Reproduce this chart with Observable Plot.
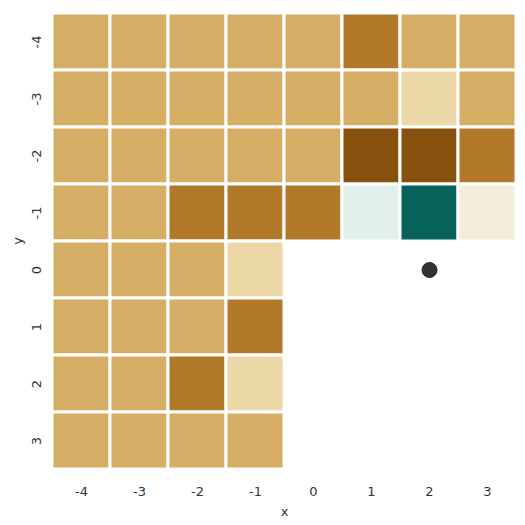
<!DOCTYPE html>
<html><head><meta charset="utf-8">
<script src="https://cdn.jsdelivr.net/npm/d3@7"></script>
<script src="https://cdn.jsdelivr.net/npm/@observablehq/plot@0.6"></script>
<style>body{margin:0;background:#fff;font-family:"DejaVu Sans",sans-serif;}</style>
</head><body><div id="chart"></div>
<script>
const xs = [-4, -3, -2, -1, 0, 1, 2, 3];
const ys = [-4, -3, -2, -1, 0, 1, 2, 3];
// values (0..1 on BrBG), null = missing
const rowM4 = [0.27, 0.27, 0.27, 0.27, 0.27, 0.18, 0.27, 0.27];
const rowM3 = [0.27, 0.27, 0.27, 0.27, 0.27, 0.27, 0.36, 0.27];
const rowM2 = [0.27, 0.27, 0.27, 0.27, 0.27, 0.09, 0.09, 0.18];
const rowM1 = [0.27, 0.27, 0.18, 0.18, 0.18, 0.54, 0.91, 0.45];
const row0  = [0.27, 0.27, 0.27, 0.36, null, null, null, null];
const row1  = [0.27, 0.27, 0.27, 0.18, null, null, null, null];
const row2  = [0.27, 0.27, 0.18, 0.36, null, null, null, null];
const row3  = [0.27, 0.27, 0.27, 0.27, null, null, null, null];
const rows = [rowM4, rowM3, rowM2, rowM1, row0, row1, row2, row3];
const pointX = [2];
const pointY = [0];

const cells = [];
rows.forEach((r, i) => r.forEach((v, j) => { if (v !== null) cells.push({x: xs[j], y: ys[i], v}); }));
const points = pointX.map((x, i) => ({x, y: pointY[i]}));

const chart = Plot.plot({
  width: 525, height: 525,
  marginLeft: 52, marginRight: 9, marginTop: 9, marginBottom: 53,
  style: {fontFamily: "DejaVu Sans, sans-serif", fontSize: "13px", color: "#333", background: "#fff"},
  x: {type: "band", domain: xs, padding: 0},
  y: {type: "band", domain: ys, padding: 0},
  color: {type: "linear", scheme: "BrBG", domain: [0, 1]},
  marks: [
    Plot.cell(cells, {x: "x", y: "y", fill: "v", stroke: "white", strokeWidth: 3}),
    Plot.dot(points, {x: "x", y: "y", r: 7.5, fill: "#333", stroke: "#222", strokeWidth: 1}),
    Plot.axisX({tickSize: 0, tickPadding: 14, label: "x", labelAnchor: "center", labelOffset: 43, fontSize: 13}),
    Plot.axisY({tickSize: 0, tickPadding: 12, tickRotate: -90, label: "y", labelAnchor: "center", labelOffset: 40, fontSize: 13})
  ]
});
document.getElementById("chart").appendChild(chart);
</script></body></html>
